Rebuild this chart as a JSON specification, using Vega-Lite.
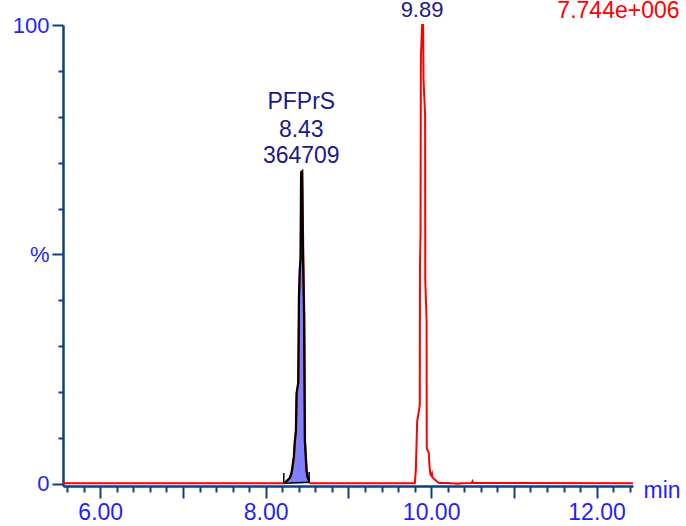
{
  "$schema": "https://vega.github.io/schema/vega-lite/v6.json",
  "autosize": "none",
  "width": 570,
  "height": 461,
  "padding": {"left": 63, "top": 25, "right": 53, "bottom": 40},
  "background": "white",
  "config": {"view": {"stroke": null}, "font": "Liberation Sans"},
  "datasets": {
    "trace": [
      {"t": 5.55, "i": 0.15}, {"t": 8.21, "i": 0.15}, {"t": 8.225, "i": 0.15},
      {"t": 8.243, "i": 0.4}, {"t": 8.294, "i": 1.3}, {"t": 8.315, "i": 2.4}, {"t": 8.327, "i": 3.8},
      {"t": 8.343, "i": 5.9}, {"t": 8.355, "i": 9.4}, {"t": 8.368, "i": 11.6}, {"t": 8.376, "i": 19.8},
      {"t": 8.396, "i": 22.0}, {"t": 8.405, "i": 40.9}, {"t": 8.415, "i": 46.8}, {"t": 8.424, "i": 48.9},
      {"t": 8.431, "i": 67.9}, {"t": 8.443, "i": 68.1}, {"t": 8.456, "i": 48.9}, {"t": 8.468, "i": 36.5},
      {"t": 8.477, "i": 9.4}, {"t": 8.49, "i": 5.2}, {"t": 8.498, "i": 2.7}, {"t": 8.508, "i": 1.6},
      {"t": 8.528, "i": 0.4}, {"t": 8.54, "i": 0.15},
      {"t": 9.803, "i": 0.15}, {"t": 9.815, "i": 3.0}, {"t": 9.831, "i": 13.6}, {"t": 9.863, "i": 17.2},
      {"t": 9.865, "i": 47.3}, {"t": 9.872, "i": 54.6}, {"t": 9.876, "i": 93.1}, {"t": 9.891, "i": 100},
      {"t": 9.903, "i": 100}, {"t": 9.908, "i": 88.0}, {"t": 9.927, "i": 80.4}, {"t": 9.929, "i": 44.4},
      {"t": 9.945, "i": 35.7}, {"t": 9.947, "i": 7.8}, {"t": 9.972, "i": 6.7}, {"t": 9.976, "i": 4.9},
      {"t": 9.985, "i": 3.0}, {"t": 9.99, "i": 2.2}, {"t": 10.0, "i": 1.9}, {"t": 10.01, "i": 2.3},
      {"t": 10.015, "i": 1.5}, {"t": 10.04, "i": 1.0}, {"t": 10.08, "i": 0.4}, {"t": 10.1, "i": 0.2},
      {"t": 10.2, "i": 0.2}, {"t": 10.33, "i": 0.05}, {"t": 10.36, "i": 0.15}, {"t": 10.49, "i": 0.2},
      {"t": 10.5, "i": 0.6}, {"t": 10.51, "i": 0.2}, {"t": 12.44, "i": 0.15}
    ],
    "pfprs": [
      {"t": 8.24, "i": 0.4}, {"t": 8.291, "i": 1.3}, {"t": 8.312, "i": 2.4}, {"t": 8.324, "i": 3.8},
      {"t": 8.34, "i": 5.9}, {"t": 8.352, "i": 9.4}, {"t": 8.365, "i": 11.6}, {"t": 8.373, "i": 19.8},
      {"t": 8.393, "i": 22.0}, {"t": 8.402, "i": 40.9}, {"t": 8.412, "i": 46.8}, {"t": 8.421, "i": 48.9},
      {"t": 8.428, "i": 67.9}, {"t": 8.44, "i": 68.1}, {"t": 8.452, "i": 48.9}, {"t": 8.464, "i": 36.5},
      {"t": 8.473, "i": 9.4}, {"t": 8.486, "i": 5.2}, {"t": 8.494, "i": 2.7}, {"t": 8.504, "i": 1.6},
      {"t": 8.525, "i": 0.7}
    ],
    "markers": [
      {"t": 8.219, "lo": 0.15, "hi": 2.4},
      {"t": 8.525, "lo": 0.4, "hi": 2.6}
    ],
    "integration": [
      {"t1": 8.222, "b1": 0.15, "t2": 8.525, "b2": 0.35}
    ],
    "peaks": [
      {"name": "PFPrS", "rt": 8.43, "top": 68.1, "area": "364709"}
    ],
    "ispeak": [
      {"rt": 9.89, "top": 100}
    ],
    "scale": [
      {"t": 12.264, "top": 100, "label": "7.744e+006"}
    ]
  },
  "layer": [
    {
      "data": {"name": "pfprs"},
      "mark": {"type": "area", "color": "#8080ff", "opacity": 1},
      "encoding": {
        "x": {
          "field": "t", "type": "quantitative",
          "scale": {"domain": [5.55, 12.44], "nice": false, "zero": false},
          "axis": {
            "values": [5.6, 5.8, 6, 6.2, 6.4, 6.6, 6.8, 7, 7.2, 7.4, 7.6, 7.8, 8, 8.2, 8.4, 8.6, 8.8, 9, 9.2, 9.4, 9.6, 9.8, 10, 10.2, 10.4, 10.6, 10.8, 11, 11.2, 11.4, 11.6, 11.8, 12, 12.2, 12.4],
            "tickCount": 200,
            "labelExpr": "abs(datum.value - round(datum.value)) < 0.01 && round(datum.value) % 2 == 0 ? format(datum.value, '.2f') : ''",
            "grid": false,
            "domainColor": "#0f3f80", "domainWidth": 2.5,
            "tickColor": "#0f3f80", "tickWidth": 2,
            "tickSize": {"condition": {"test": "abs(datum.value - round(datum.value)) < 0.01", "value": 12}, "value": 6},
            "labelColor": "#1f1fff", "labelFontSize": 23, "labelFont": "Liberation Sans",
            "labelPadding": 3, "labelOverlap": false, "labelFlush": false, "labelBound": false,
            "title": "min", "titleColor": "#1f1fff", "titleFontSize": 23, "titleFont": "Liberation Sans",
            "titleFontWeight": "normal", "titleAnchor": "start", "titleAlign": "left",
            "titleBaseline": "alphabetic", "titleX": 580, "titleY": 11, "titleAngle": 0
          }
        },
        "y": {
          "field": "i", "type": "quantitative",
          "scale": {"domain": [-0.44, 100], "nice": false, "zero": false},
          "axis": {
            "values": [0, 10, 20, 30, 40, 50, 60, 70, 80, 90, 100],
            "labelExpr": "datum.value == 50 ? '%' : (datum.value == 0 || datum.value == 100 ? format(datum.value, 'd') : '')",
            "grid": false,
            "domainColor": "#0f3f80", "domainWidth": 2.5,
            "tickColor": "#0f3f80", "tickWidth": 2,
            "tickSize": {"condition": {"test": "datum.value % 50 == 0", "value": 11}, "value": 5},
            "labelColor": "#1f1fff", "labelFontSize": 22, "labelFont": "Liberation Sans",
            "labelPadding": 3, "labelOverlap": false, "labelFlush": false, "labelBound": false,
            "title": null
          }
        },
        "y2": {"datum": 0.15}
      }
    },
    {
      "data": {"name": "trace"},
      "mark": {"type": "line", "color": "#ff0000", "strokeWidth": 2},
      "encoding": {
        "x": {"field": "t", "type": "quantitative"},
        "y": {"field": "i", "type": "quantitative"},
        "order": {"field": "t", "type": "quantitative"}
      }
    },
    {
      "data": {"name": "pfprs"},
      "mark": {"type": "line", "color": "#000000", "strokeWidth": 2.2},
      "encoding": {
        "x": {"field": "t", "type": "quantitative"},
        "y": {"field": "i", "type": "quantitative"},
        "order": {"field": "t", "type": "quantitative"}
      }
    },
    {
      "data": {"name": "markers"},
      "mark": {"type": "rule", "color": "#000000", "strokeWidth": 1.5},
      "encoding": {
        "x": {"field": "t", "type": "quantitative"},
        "y": {"field": "lo", "type": "quantitative"},
        "y2": {"field": "hi"}
      }
    },
    {
      "data": {"name": "integration"},
      "mark": {"type": "rule", "color": "#000000", "strokeWidth": 1.5},
      "encoding": {
        "x": {"field": "t1", "type": "quantitative"},
        "y": {"field": "b1", "type": "quantitative"},
        "x2": {"field": "t2"},
        "y2": {"field": "b2"}
      }
    },
    {
      "data": {"name": "peaks"},
      "mark": {"type": "text", "color": "#1a1a8a", "fontSize": 23, "font": "Liberation Sans", "align": "center", "baseline": "alphabetic", "dy": -62.1},
      "encoding": {
        "x": {"field": "rt", "type": "quantitative"},
        "y": {"field": "top", "type": "quantitative"},
        "text": {"field": "name"}
      }
    },
    {
      "data": {"name": "peaks"},
      "mark": {"type": "text", "color": "#1a1a8a", "fontSize": 23, "font": "Liberation Sans", "align": "center", "baseline": "alphabetic", "dy": -34.1},
      "encoding": {
        "x": {"field": "rt", "type": "quantitative"},
        "y": {"field": "top", "type": "quantitative"},
        "text": {"field": "rt", "type": "quantitative", "format": ".2f"}
      }
    },
    {
      "data": {"name": "peaks"},
      "mark": {"type": "text", "color": "#1a1a8a", "fontSize": 23, "font": "Liberation Sans", "align": "center", "baseline": "alphabetic", "dy": -8.1},
      "encoding": {
        "x": {"field": "rt", "type": "quantitative"},
        "y": {"field": "top", "type": "quantitative"},
        "text": {"field": "area"}
      }
    },
    {
      "data": {"name": "ispeak"},
      "mark": {"type": "text", "color": "#1a1a8a", "fontSize": 22, "font": "Liberation Sans", "align": "center", "baseline": "alphabetic", "dy": -7.8},
      "encoding": {
        "x": {"field": "rt", "type": "quantitative"},
        "y": {"field": "top", "type": "quantitative"},
        "text": {"field": "rt", "type": "quantitative", "format": ".2f"}
      }
    },
    {
      "data": {"name": "scale"},
      "mark": {"type": "text", "color": "#ff0000", "fontSize": 23, "font": "Liberation Sans", "align": "center", "baseline": "alphabetic", "dy": -7.5},
      "encoding": {
        "x": {"field": "t", "type": "quantitative"},
        "y": {"field": "top", "type": "quantitative"},
        "text": {"field": "label"}
      }
    }
  ]
}
